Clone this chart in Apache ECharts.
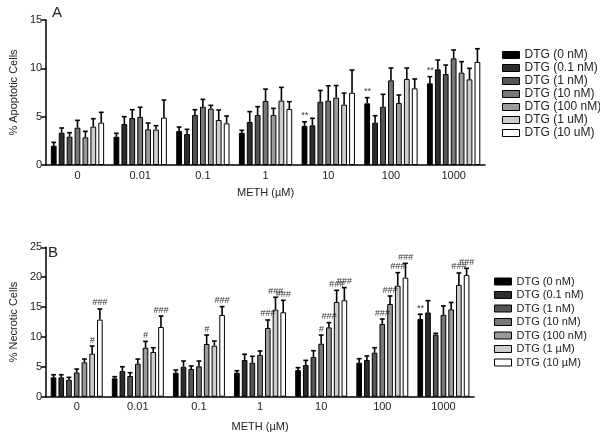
<!DOCTYPE html>
<html>
<head>
<meta charset="utf-8">
<script src="https://cdn.jsdelivr.net/npm/echarts@6/dist/echarts.min.js"></script>
<style>html,body{margin:0;padding:0;background:#fff;}#c{width:600px;height:437px;}</style>
</head>
<body>
<div id="c"></div>
<script>
// ---------- DATA ----------
const categories = ['0', '0.01', '0.1', '1', '10', '100', '1000'];
const seriesNamesA = ['DTG (0 nM)', 'DTG (0.1 nM)', 'DTG (1 nM)', 'DTG (10 nM)', 'DTG (100 nM)', 'DTG (1 uM)', 'DTG (10 uM)'];
const seriesNamesB = ['DTG (0 nM)', 'DTG (0.1 nM)', 'DTG (1 nM)', 'DTG (10 nM)', 'DTG (100 nM)', 'DTG (1 \u00b5M)', 'DTG (10 \u00b5M)'];
const yTicksA = [0, 5, 10, 15];
const yTicksB = [0, 5, 10, 15, 20, 25];

// Panel A: % apoptotic cells (mean) and SEM
const apo_0nM    = [2.0, 2.93, 3.52, 3.34, 4.05, 6.38, 8.45];
const apo_01nM   = [3.34, 4.24, 3.2, 4.45, 4.1, 4.38, 9.9];
const apo_1nM    = [2.93, 4.86, 5.17, 5.17, 6.55, 6.03, 9.41];
const apo_10nM   = [3.86, 4.97, 6.03, 6.62, 6.66, 8.76, 11.03];
const apo_100nM  = [2.86, 3.69, 5.83, 5.17, 6.97, 6.41, 9.55];
const apo_1uM    = [3.97, 3.66, 4.66, 6.66, 6.24, 8.9, 8.86];
const apo_10uM   = [4.38, 4.9, 4.31, 5.79, 7.47, 7.93, 10.66];
const apoSem_0nM   = [0.34, 0.35, 0.41, 0.25, 0.42, 0.59, 0.69];
const apoSem_01nM  = [0.49, 0.76, 0.49, 1.07, 0.73, 0.72, 0.96];
const apoSem_1nM   = [0.41, 0.86, 0.55, 0.86, 1.16, 1.28, 0.93];
const apoSem_10nM  = [0.76, 1.0, 0.76, 1.23, 1.53, 1.27, 0.87];
const apoSem_100nM = [0.62, 0.65, 0.34, 0.69, 1.25, 0.83, 1.14];
const apoSem_1uM   = [0.82, 0.41, 1.03, 1.37, 1.2, 1.13, 1.14];
const apoSem_10uM  = [1.07, 1.82, 0.76, 0.76, 2.36, 0.97, 1.37];
const apoMarks_0nM = ['', '', '', '', '**', '**', '**'];

// Panel B: % necrotic cells (mean) and SEM
const nec_0nM    = [3.24, 3.07, 4.02, 4.02, 4.46, 5.69, 13.0];
const nec_01nM   = [3.24, 4.3, 5.02, 6.14, 5.3, 6.14, 14.1];
const nec_1nM    = [2.85, 3.46, 4.63, 5.69, 6.64, 7.37, 10.4];
const nec_10nM   = [4.07, 5.52, 5.08, 6.98, 8.87, 12.17, 13.7];
const nec_100nM  = [5.75, 8.2, 8.82, 11.5, 11.6, 15.51, 14.62];
const nec_1uM    = [7.2, 7.48, 8.54, 14.57, 15.85, 18.58, 18.7];
const nec_10uM   = [12.9, 11.66, 13.67, 14.13, 16.13, 19.92, 20.35];
const necSem_0nM   = [0.44, 0.28, 0.44, 0.33, 0.4, 0.67, 0.8];
const necSem_01nM  = [0.44, 0.72, 0.95, 0.96, 0.78, 0.67, 1.97];
const necSem_1nM   = [0.39, 0.56, 0.5, 1.07, 1.06, 0.83, 0.2];
const necSem_10nM  = [0.56, 0.78, 0.89, 0.67, 1.45, 0.83, 1.5];
const necSem_100nM = [0.55, 1.06, 1.5, 1.34, 0.79, 1.34, 1.15];
const necSem_1uM   = [1.28, 0.72, 0.78, 2.07, 1.95, 2.18, 2.0];
const necSem_10uM  = [1.78, 1.84, 1.4, 2.0, 2.12, 2.4, 1.13];
const necMarks_0nM   = ['', '', '', '', '', '', '**'];
const necMarks_10nM  = ['', '', '', '', '#', '###', ''];
const necMarks_100nM = ['', '#', '#', '###', '###', '###', ''];
const necMarks_1uM   = ['#', '', '', '###', '###', '###', '###'];
const necMarks_10uM  = ['###', '###', '###', '###', '###', '###', '###'];
const noMarks = ['', '', '', '', '', '', ''];

// ---------- BUILD ----------
const colors = ['#000000', '#2d2d2d', '#555555', '#777777', '#9a9a9a', '#cdcdcd', '#ffffff'];
const apoMeans = [apo_0nM, apo_01nM, apo_1nM, apo_10nM, apo_100nM, apo_1uM, apo_10uM];
const apoSems = [apoSem_0nM, apoSem_01nM, apoSem_1nM, apoSem_10nM, apoSem_100nM, apoSem_1uM, apoSem_10uM];
const apoMarks = [apoMarks_0nM, noMarks, noMarks, noMarks, noMarks, noMarks, noMarks];
const necMeans = [nec_0nM, nec_01nM, nec_1nM, nec_10nM, nec_100nM, nec_1uM, nec_10uM];
const necSems = [necSem_0nM, necSem_01nM, necSem_1nM, necSem_10nM, necSem_100nM, necSem_1uM, necSem_10uM];
const necMarks = [necMarks_0nM, noMarks, noMarks, necMarks_10nM, necMarks_100nM, necMarks_1uM, necMarks_10uM];

const CAT_GAP = 0.15, BAR_GAP = 0.37;
const FONT = '"Liberation Sans", Arial, sans-serif';

function errSeries(means, sems, marks, axisIdx) {
  const data = [], labels = [];
  const n = means.length;
  means.forEach((arr, si) => arr.forEach((v, ci) => {
    data.push([ci, si, v, v + sems[si][ci]]);
    labels.push(marks[si][ci]);
  }));
  return {
    type: 'custom', xAxisIndex: axisIdx, yAxisIndex: axisIdx, z: 5, clip: false,
    silent: true, encode: { x: 0, y: 3 }, data: data,
    renderItem: function (params, api) {
      const cat = api.value(0), si = api.value(1), mean = api.value(2), top = api.value(3);
      const b = api.coord([cat, mean]);
      const t = api.coord([cat, top]);
      const bw = api.size([1, 0])[0];
      const w = (bw - bw * CAT_GAP) / (n + (n - 1) * BAR_GAP);
      const sum = n * w + (n - 1) * w * BAR_GAP;
      const x = b[0] - sum / 2 + si * w * (1 + BAR_GAP) + w / 2;
      const st = { stroke: '#000', lineWidth: 1.6 };
      const children = [
        { type: 'line', shape: { x1: x, y1: b[1], x2: x, y2: t[1] }, style: st },
        { type: 'line', shape: { x1: x - 2.4, y1: t[1], x2: x + 2.4, y2: t[1] }, style: st }
      ];
      const lab = labels[params.dataIndex];
      if (lab) {
        children.push({ type: 'text', style: { text: lab, x: x, y: t[1] - 1.5, textAlign: 'center', textVerticalAlign: 'bottom',
          font: 'italic 9px ' + FONT, fill: '#333' } });
      }
      return { type: 'group', children: children };
    }
  };
}

function barSeries(names, means, axisIdx) {
  return means.map((arr, si) => ({
    name: names[si], type: 'bar', xAxisIndex: axisIdx, yAxisIndex: axisIdx,
    barCategoryGap: (CAT_GAP * 100) + '%', barGap: (BAR_GAP * 100) + '%',
    data: arr,
    itemStyle: { color: colors[si], borderColor: '#000', borderWidth: 1 },
    emphasis: { disabled: true }
  }));
}

const axisLineStyle = { lineStyle: { color: '#000', width: 1.5 } };
function xAxis(gi, gap) {
  return {
    type: 'category', gridIndex: gi, data: categories,
    axisLine: axisLineStyle, axisTick: { alignWithLabel: true, length: 4, lineStyle: { color: '#000', width: 1.5 } },
    axisLabel: { color: '#222', fontSize: 11, fontFamily: FONT, margin: 5 },
    name: 'METH (\u00b5M)', nameLocation: 'middle', nameGap: gap,
    nameTextStyle: { color: '#222', fontSize: 11, fontFamily: FONT }
  };
}
function yAxis(gi, ticks, name) {
  return {
    type: 'value', gridIndex: gi, min: ticks[0], max: ticks[ticks.length - 1], interval: ticks[1] - ticks[0],
    axisLine: Object.assign({ show: true }, axisLineStyle),
    axisTick: { show: true, length: 5, lineStyle: { color: '#000', width: 1.5 } },
    splitLine: { show: false },
    axisLabel: { color: '#222', fontSize: 11, fontFamily: FONT, margin: 4 },
    name: name, nameLocation: 'middle', nameGap: 23,
    nameTextStyle: { color: '#222', fontSize: 11, fontFamily: FONT }
  };
}

function legend(left, top, gap, fs, names) {
  return {
    left: left, top: top, itemGap: gap, data: names,
    orient: 'vertical', itemWidth: 17, itemHeight: 7, icon: 'rect',
    textStyle: { color: '#222', fontSize: fs, fontFamily: FONT },
    itemStyle: { borderColor: '#000', borderWidth: 1 },
    selectedMode: false
  };
}

const option = {
  animation: false,
  backgroundColor: '#fff',
  grid: [
    { left: 40, top: 20, width: 445, height: 145 },
    { left: 40, top: 247.3, width: 434, height: 149.4 }
  ],
  xAxis: [xAxis(0, 22), xAxis(1, 25)],
  yAxis: [yAxis(0, yTicksA, '% Apoptotic Cells'), yAxis(1, yTicksB, '% Necrotic Cells')],
  legend: [
    legend(497, 44, 1, 12, seriesNamesA),
    legend(489, 271, 2.5, 11, seriesNamesB)
  ],
  graphic: [
    { type: 'text', left: 52, top: 5, style: { text: 'A', font: '15px ' + FONT, fill: '#222' } },
    { type: 'text', left: 48, top: 245, style: { text: 'B', font: '15px ' + FONT, fill: '#222' } }
  ],
  series: [].concat(
    barSeries(seriesNamesA, apoMeans, 0),
    barSeries(seriesNamesB, necMeans, 1),
    [errSeries(apoMeans, apoSems, apoMarks, 0), errSeries(necMeans, necSems, necMarks, 1)]
  )
};

const chart = echarts.init(document.getElementById('c'), null, { renderer: 'canvas' });
chart.setOption(option);
</script>
</body>
</html>
